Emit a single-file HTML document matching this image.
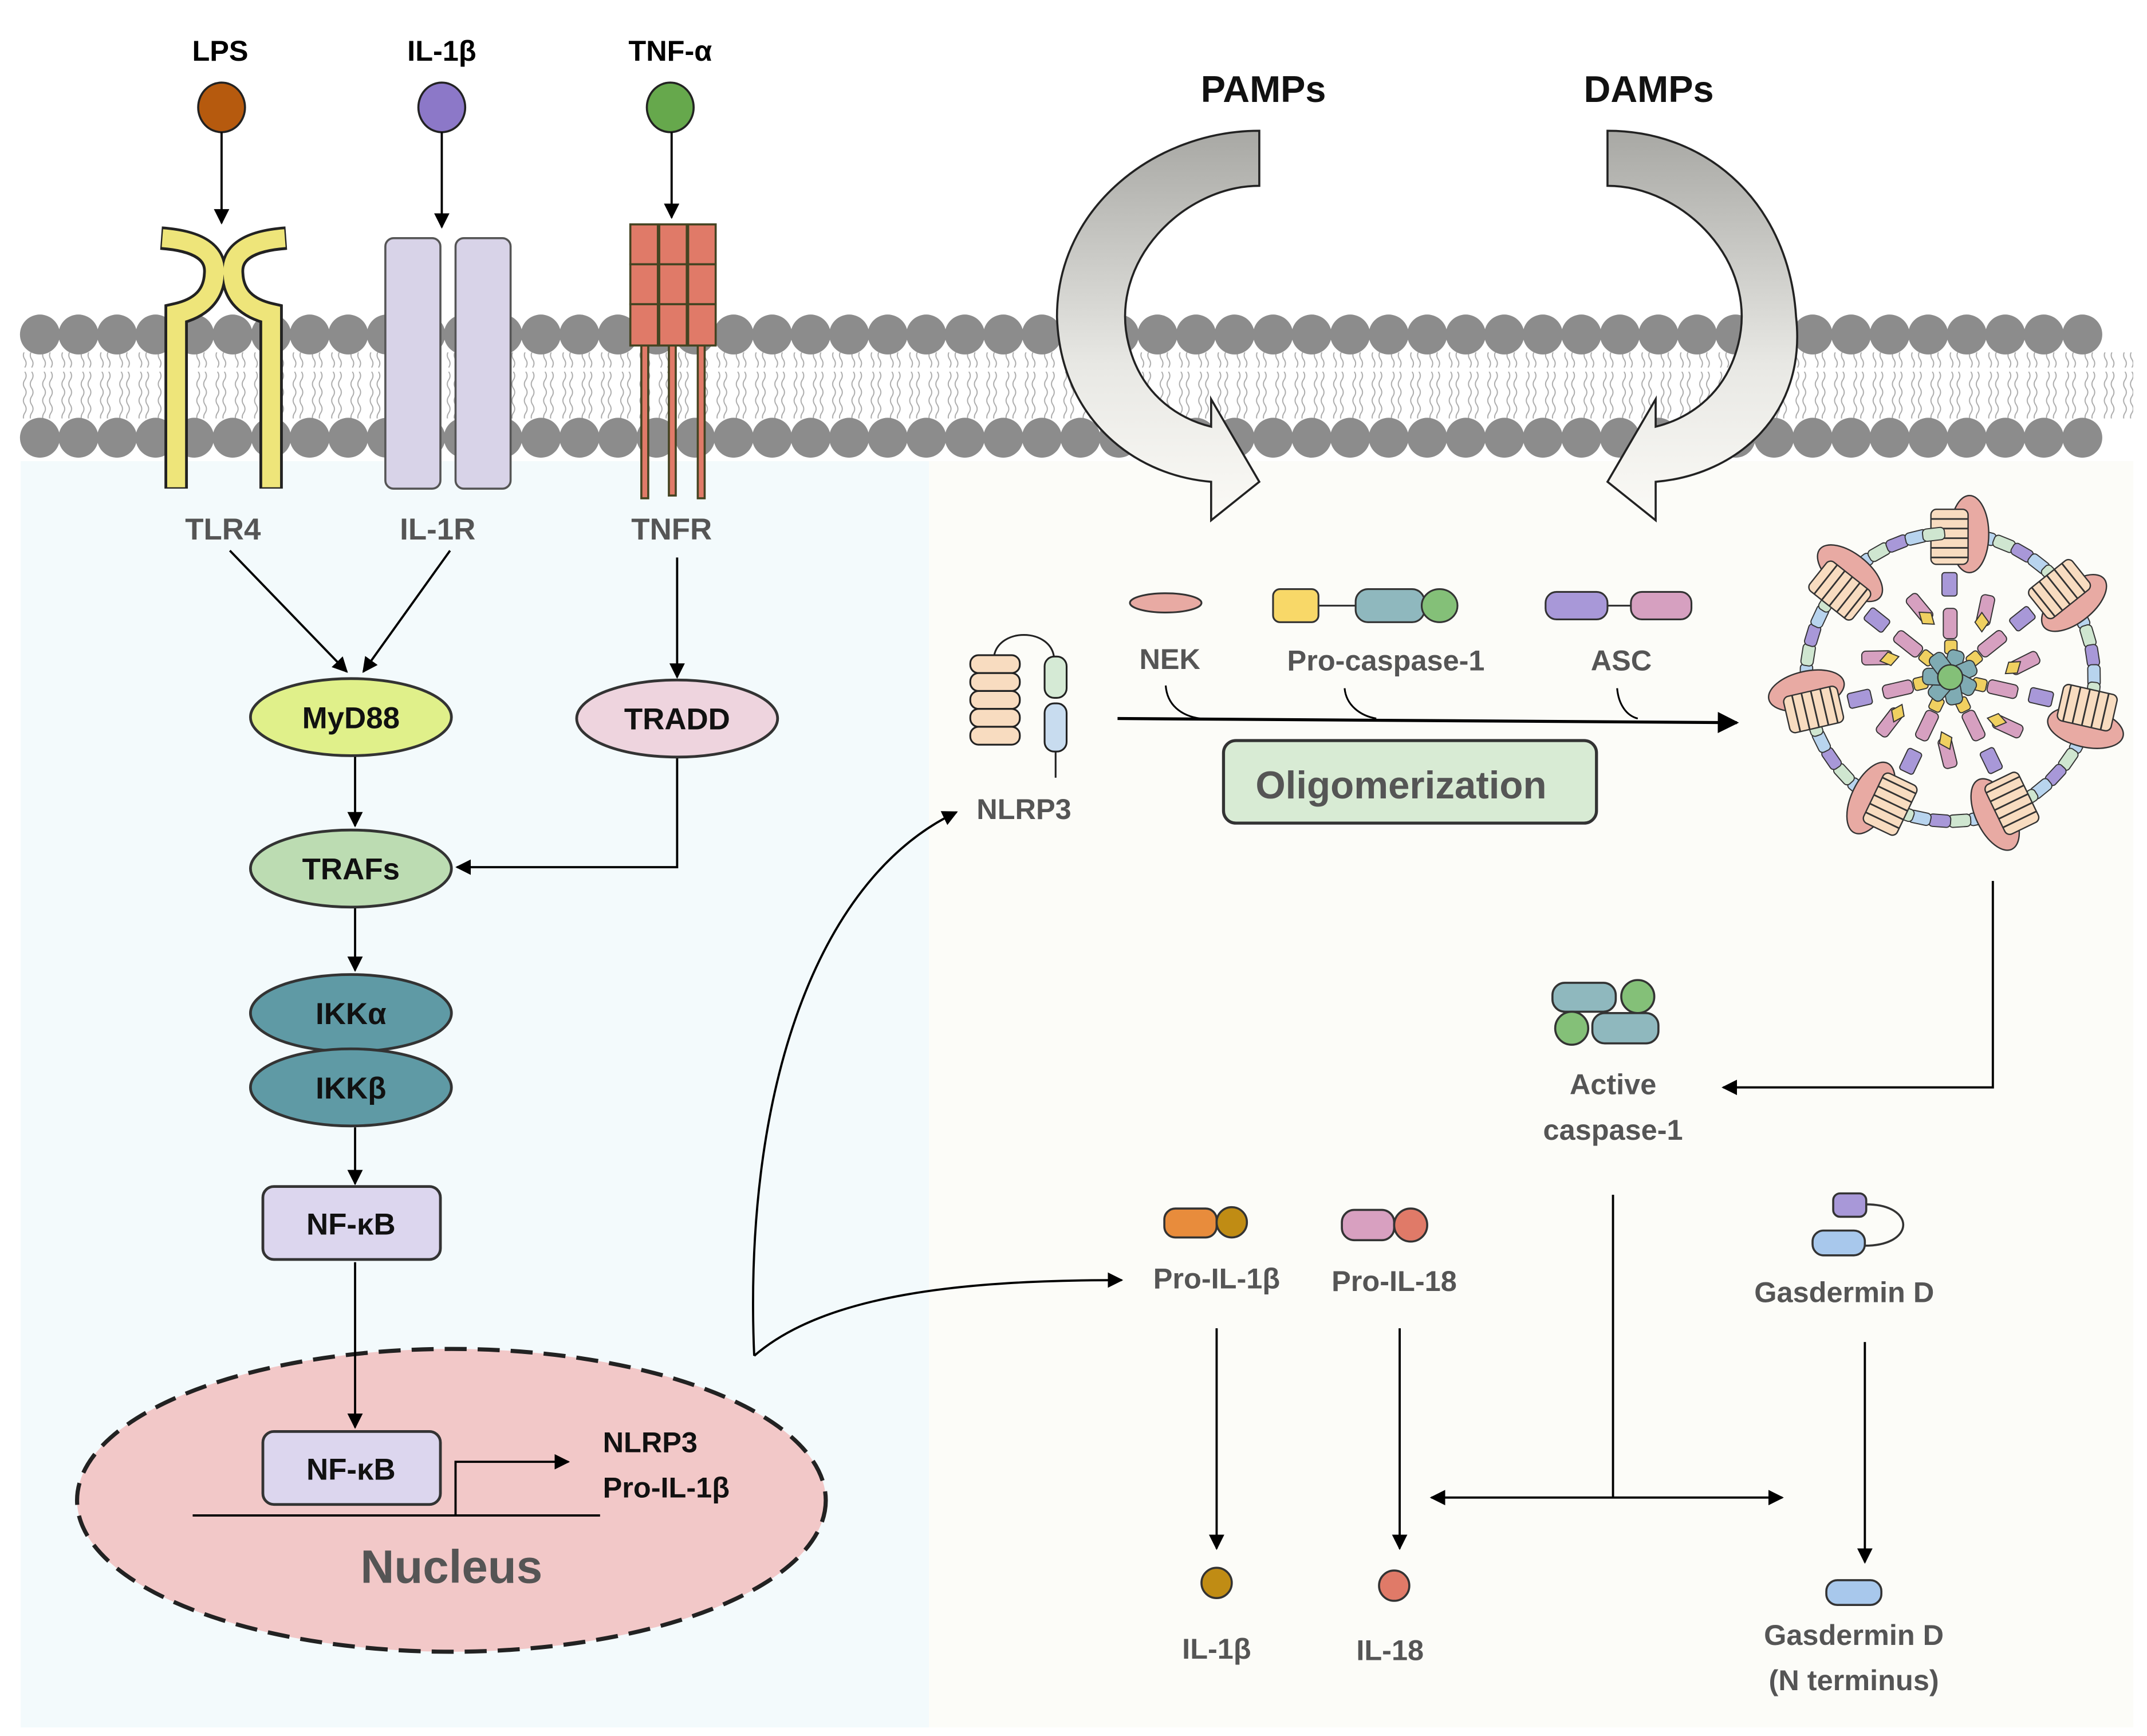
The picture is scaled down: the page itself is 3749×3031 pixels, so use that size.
<!DOCTYPE html>
<html><head><meta charset="utf-8"><style>
html,body{margin:0;padding:0;background:#fff}
svg{display:block}
text{font-family:"Liberation Sans",sans-serif;font-weight:bold}
</style></head><body>
<svg width="3749" height="3031" viewBox="0 0 1560 1261.2" xmlns="http://www.w3.org/2000/svg">
<defs>
<marker id="ah" viewBox="0 0 10 10" refX="9" refY="5" markerWidth="7" markerHeight="7" orient="auto-start-reverse"><path d="M0,0 L10,5 L0,10 z" fill="#000"/></marker>
<pattern id="tail" width="14" height="45" patternUnits="userSpaceOnUse">
<path d="M4,0 q2,3 0,6 q-2,3 0,6 q2,3 0,6 q-2,3 0,6 M9,0 q2,3 0,6 q-2,3 0,6 q2,3 0,6 q-2,3 0,6 M4,24 q2,3 0,6 q-2,3 0,6 q2,3 0,6 M9,24 q2,3 0,6 q-2,3 0,6 q2,3 0,6" fill="none" stroke="#aaa" stroke-width="0.8"/>
</pattern>
<linearGradient id="ga" x1="0" y1="0" x2="0" y2="1"><stop offset="0" stop-color="#a8a8a4"/><stop offset="0.6" stop-color="#e8e8e4"/><stop offset="1" stop-color="#fbfaf6"/></linearGradient>
<g id="cap"><rect x="-8" y="-109" width="16" height="9" rx="3" stroke="#333" stroke-width="0.8"/></g>
<g id="arm">
<use href="#cap" fill="#b8d4ee" transform="rotate(14)"/>
<use href="#cap" fill="#cfe6d0" transform="rotate(22)"/>
<use href="#cap" fill="#a898d8" transform="rotate(30)"/>
<use href="#cap" fill="#b8d4ee" transform="rotate(38)"/>
<use href="#cap" fill="#cfe6d0" transform="rotate(45)"/>
<ellipse cx="14" cy="-104" rx="14" ry="28" fill="#e8aaa3" stroke="#333" stroke-width="1"/>
<rect x="-14" y="-122" width="27" height="40" rx="4" fill="#f8dcc0" stroke="#333" stroke-width="1"/>
<path d="M-14,-115h27M-14,-108h27M-14,-101h27M-14,-94h27M-14,-87h27" stroke="#333" stroke-width="1.2"/>
<rect x="-6" y="-76" width="11" height="17" rx="2" fill="#a898d8" stroke="#333" stroke-width="0.8"/>
<rect x="10" y="-64" width="10" height="22" rx="3" fill="#d6a0c0" stroke="#333" stroke-width="0.8" transform="rotate(12)"/>
<rect x="-5" y="-50" width="10" height="22" rx="3" fill="#d6a0c0" stroke="#333" stroke-width="0.8"/>
<path d="M18,-40 l5,-7 l5,7 l-5,7 z" fill="#f0d060" stroke="#333" stroke-width="0.8"/>
<rect x="-4" y="-27" width="9" height="10" rx="2" fill="#f0d060" stroke="#333" stroke-width="0.8"/>
<rect x="-6" y="-20" width="12" height="26" rx="4" fill="#7fabb3" stroke="#333" stroke-width="0.8" transform="rotate(15)"/>
</g>
</defs>
<!-- backgrounds -->
<rect x="15" y="335" width="660" height="920" fill="#f3fafc"/>
<rect x="675" y="335" width="875" height="920" fill="#fcfcf8"/>
<!-- membrane -->
<rect x="15" y="256" width="1535" height="48" fill="url(#tail)"/>
<path d="M29,243 h1512" stroke="#8c8c8c" stroke-width="29" stroke-dasharray="0 28" stroke-linecap="round"/>
<path d="M29,318 h1512" stroke="#8c8c8c" stroke-width="29" stroke-dasharray="0 28" stroke-linecap="round"/>
<!-- ligands -->
<text x="160" y="44" font-size="21" text-anchor="middle">LPS</text>
<text x="321" y="44" font-size="21" text-anchor="middle">IL-1β</text>
<text x="487" y="44" font-size="21" text-anchor="middle">TNF-α</text>
<ellipse cx="161" cy="78" rx="17" ry="18" fill="#b65a0e" stroke="#222" stroke-width="1.5"/>
<ellipse cx="321" cy="78" rx="17" ry="18" fill="#8c78c8" stroke="#222" stroke-width="1.5"/>
<ellipse cx="487" cy="78" rx="17" ry="18" fill="#66a84c" stroke="#222" stroke-width="1.5"/>
<g stroke="#000" stroke-width="1.6" marker-end="url(#ah)">
<line x1="161" y1="96" x2="161" y2="162"/><line x1="321" y1="96" x2="321" y2="165"/><line x1="488" y1="96" x2="488" y2="158"/>
</g>
<!-- TLR4 -->
<g fill="none" stroke-linejoin="miter">
<path d="M117,173 Q158,176 156,199 Q155,222 128,228 L128,355" stroke="#222" stroke-width="17"/>
<path d="M208,173 Q167,176 169,199 Q170,222 197,228 L197,355" stroke="#222" stroke-width="17"/>
<path d="M118,173 Q158,176 156,199 Q155,222 128,228 L128,354" stroke="#eee57a" stroke-width="13"/>
<path d="M207,173 Q167,176 169,199 Q170,222 197,228 L197,354" stroke="#eee57a" stroke-width="13"/>
</g>
<!-- IL-1R -->
<rect x="280" y="173" width="40" height="182" rx="6" fill="#d8d3e8" stroke="#555" stroke-width="1.5"/>
<rect x="331" y="173" width="40" height="182" rx="6" fill="#d8d3e8" stroke="#555" stroke-width="1.5"/>
<!-- TNFR -->
<g fill="#e07a68" stroke="#442" stroke-width="1.5">
<rect x="466" y="250" width="5" height="112"/><rect x="486" y="250" width="5" height="110"/><rect x="507" y="250" width="5" height="112"/>
<rect x="458" y="163" width="20" height="29"/><rect x="479" y="163" width="20" height="29"/><rect x="500" y="163" width="20" height="29"/>
<rect x="458" y="192" width="20" height="29"/><rect x="479" y="192" width="20" height="29"/><rect x="500" y="192" width="20" height="29"/>
<rect x="458" y="221" width="20" height="30"/><rect x="479" y="221" width="20" height="30"/><rect x="500" y="221" width="20" height="30"/>
</g>
<g fill="#555" font-size="22" text-anchor="middle">
<text x="162" y="392">TLR4</text><text x="318" y="392">IL-1R</text><text x="488" y="392">TNFR</text>
</g>
<!-- nucleus (drawn first so arrows sit on top) -->
<ellipse cx="328" cy="1090" rx="272" ry="110" fill="#f2c8c8" stroke="#222" stroke-width="3" stroke-dasharray="16 8"/>
<!-- left pathway -->
<g stroke="#000" stroke-width="1.6" fill="none" marker-end="url(#ah)">
<line x1="167" y1="400" x2="252" y2="488"/>
<line x1="327" y1="400" x2="264" y2="488"/>
<line x1="492" y1="405" x2="492" y2="492"/>
<line x1="258" y1="549" x2="258" y2="600"/>
<polyline points="492,550 492,630 332,630"/>
<line x1="258" y1="659" x2="258" y2="705"/>
<line x1="258" y1="819" x2="258" y2="860"/>
<line x1="258" y1="917" x2="258" y2="1037"/>
</g>
<g stroke="#333" stroke-width="2">
<ellipse cx="255" cy="521" rx="73" ry="28" fill="#e0f08a"/>
<ellipse cx="492" cy="522" rx="73" ry="28" fill="#eed4de"/>
<ellipse cx="255" cy="631" rx="73" ry="28" fill="#bcdcb2"/>
<ellipse cx="255" cy="736" rx="73" ry="28" fill="#5f9aa5"/>
<ellipse cx="255" cy="790" rx="73" ry="28" fill="#5f9aa5"/>
<rect x="191" y="862" width="129" height="53" rx="8" fill="#dcd6ee"/>
</g>
<g font-size="22" text-anchor="middle" fill="#111">
<text x="255" y="529">MyD88</text><text x="492" y="530">TRADD</text><text x="255" y="639">TRAFs</text>
<text x="255" y="744">IKKα</text><text x="255" y="798">IKKβ</text><text x="255" y="897">NF-κB</text>
</g>
<rect x="191" y="1040" width="129" height="53" rx="8" fill="#dcd6ee" stroke="#333" stroke-width="2"/>
<text x="255" y="1075" font-size="22" text-anchor="middle" fill="#111">NF-κB</text>
<line x1="140" y1="1101" x2="436" y2="1101" stroke="#000" stroke-width="1.6"/>
<polyline points="331,1101 331,1062 413,1062" fill="none" stroke="#000" stroke-width="1.6" marker-end="url(#ah)"/>
<text x="438" y="1055" font-size="21" fill="#111">NLRP3</text>
<text x="438" y="1088" font-size="21" fill="#111">Pro-IL-1β</text>
<text x="328" y="1150" font-size="34" text-anchor="middle" fill="#555">Nucleus</text>
<g stroke="#000" stroke-width="1.6" fill="none" marker-end="url(#ah)">
<path d="M548,985 C540,800 590,640 695,590"/>
<path d="M548,985 C600,940 700,930 815,930"/>
</g>
<!-- PAMPs / DAMPs -->
<text x="918" y="74" font-size="27" text-anchor="middle" fill="#111">PAMPs</text>
<text x="1198" y="74" font-size="27" text-anchor="middle" fill="#111">DAMPs</text>
<path d="M915,95 L915,135 C860,135 805,190 820,250 C830,290 860,305 880,310 L880,290 L915,350 L880,378 L880,350 C820,345 770,300 768,230 C768,150 840,95 915,95 Z" fill="url(#ga)" stroke="#222" stroke-width="1.5"/>
<path d="M1168,95 L1168,135 C1223,135 1278,190 1263,250 C1253,290 1223,305 1203,310 L1203,290 L1168,350 L1203,378 L1203,350 C1263,345 1313,300 1305,230 C1300,150 1243,95 1168,95 Z" fill="url(#ga)" stroke="#222" stroke-width="1.5"/>
<!-- NLRP3 icon -->
<path d="M722,480 C722,455 766,455 766,480" fill="none" stroke="#222" stroke-width="1.3"/>
<g stroke="#222" stroke-width="1.3">
<rect x="705" y="476" width="36" height="13" rx="6" fill="#f8dcc0"/><rect x="705" y="489" width="36" height="13" rx="6" fill="#f8dcc0"/>
<rect x="705" y="502" width="36" height="13" rx="6" fill="#f8dcc0"/><rect x="705" y="515" width="36" height="13" rx="6" fill="#f8dcc0"/>
<rect x="705" y="528" width="36" height="13" rx="6" fill="#f8dcc0"/>
<rect x="759" y="477" width="16" height="30" rx="7" fill="#d5ead5"/>
<rect x="759" y="511" width="16" height="35" rx="7" fill="#c8dcef"/>
<line x1="767" y1="546" x2="767" y2="565"/>
</g>
<text x="744" y="595" font-size="21" text-anchor="middle" fill="#555">NLRP3</text>
<!-- NEK / pro-caspase / ASC -->
<g stroke="#333" stroke-width="1.3">
<ellipse cx="847" cy="438" rx="26" ry="7" fill="#e8aaa3"/>
<line x1="955" y1="440" x2="990" y2="440"/><line x1="1160" y1="440" x2="1190" y2="440"/>
<rect x="925" y="428" width="33" height="24" rx="5" fill="#f8d868"/>
<rect x="985" y="428" width="50" height="24" rx="9" fill="#8fb8be"/>
<ellipse cx="1046" cy="440" rx="13" ry="12" fill="#84c078"/>
<rect x="1123" y="430" width="45" height="20" rx="8" fill="#a898d8"/>
<rect x="1185" y="430" width="44" height="20" rx="8" fill="#d6a0c0"/>
</g>
<g font-size="21" text-anchor="middle" fill="#555">
<text x="850" y="486">NEK</text><text x="1007" y="487">Pro-caspase-1</text><text x="1178" y="487">ASC</text>
</g>
<g fill="none" stroke="#000" stroke-width="1.3">
<path d="M847,498 C848,512 858,520 872,522"/><path d="M977,500 C978,512 988,520 1000,522"/><path d="M1175,500 C1176,512 1182,520 1190,522"/>
</g>
<line x1="812" y1="522" x2="1262" y2="525" stroke="#000" stroke-width="2.2" marker-end="url(#ah)"/>
<rect x="889" y="538" width="271" height="60" rx="9" fill="#d8ebd4" stroke="#333" stroke-width="2.2"/>
<text x="1018" y="580" font-size="28" text-anchor="middle" fill="#555">Oligomerization</text>
<!-- inflammasome -->
<g transform="translate(1417,492)">
<circle r="104" fill="none" stroke="#333" stroke-width="1"/>
<use href="#arm" transform="rotate(0)"/><use href="#arm" transform="rotate(51.4)"/><use href="#arm" transform="rotate(102.8)"/>
<use href="#arm" transform="rotate(154.2)"/><use href="#arm" transform="rotate(205.6)"/><use href="#arm" transform="rotate(257)"/>
<use href="#arm" transform="rotate(308.4)"/>
<circle r="9" fill="#84c078" stroke="#333" stroke-width="1"/>
</g>
<!-- right lower -->
<g stroke="#000" stroke-width="1.6" fill="none" marker-end="url(#ah)">
<polyline points="1448,640 1448,790 1252,790"/>
<line x1="884" y1="965" x2="884" y2="1125"/>
<line x1="1017" y1="965" x2="1017" y2="1125"/>
<line x1="1355" y1="975" x2="1355" y2="1135"/>
<line x1="1172" y1="1088" x2="1040" y2="1088"/>
<line x1="1172" y1="1088" x2="1295" y2="1088"/>
</g>
<line x1="1172" y1="868" x2="1172" y2="1088" stroke="#000" stroke-width="1.6"/>
<g stroke="#333" stroke-width="1.5">
<rect x="1128" y="714" width="46" height="21" rx="9" fill="#8fb8be"/><circle cx="1190" cy="724" r="12" fill="#84c078"/>
<circle cx="1142" cy="747" r="12" fill="#84c078"/><rect x="1157" y="736" width="48" height="22" rx="9" fill="#8fb8be"/>
<rect x="846" y="878" width="38" height="21" rx="8" fill="#e88c3c"/><circle cx="895" cy="888" r="11" fill="#c08c14"/>
<rect x="975" y="879" width="38" height="22" rx="9" fill="#d8a0c0"/><circle cx="1025" cy="890" r="12" fill="#e07a68"/>
<rect x="1332" y="867" width="24" height="17" rx="5" fill="#a898d8"/>
<rect x="1317" y="894" width="38" height="18" rx="8" fill="#a8c8ec"/>
<path d="M1356,875 C1392,875 1392,905 1355,905" fill="none"/>
<circle cx="884" cy="1150" r="11" fill="#c08c14"/>
<circle cx="1013" cy="1152" r="11" fill="#e07a68"/>
<rect x="1327" y="1148" width="40" height="18" rx="8" fill="#a8c8ec"/>
</g>
<g font-size="21" text-anchor="middle" fill="#555">
<text x="1172" y="795">Active</text><text x="1172" y="828">caspase-1</text>
<text x="884" y="936">Pro-IL-1β</text><text x="1013" y="938">Pro-IL-18</text>
<text x="1340" y="946">Gasdermin D</text>
<text x="884" y="1205">IL-1β</text><text x="1010" y="1206">IL-18</text>
<text x="1347" y="1195">Gasdermin D</text><text x="1347" y="1228">(N terminus)</text>
</g>
</svg>
</body></html>
